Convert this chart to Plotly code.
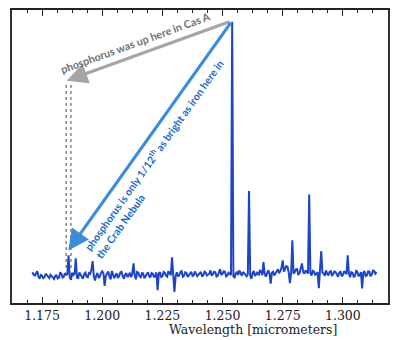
import plotly.graph_objects as go

# ---- data ----
wl_start = 1.171
wl_step = 0.0005
intensity = [
    0.8, -0.2, -0.5, 0.4, 1.2, -1.0, -1.8, -0.3, -0.6, -1.6,
    -1.2, 0.2, -0.4, -1.1, -1.5, -0.2, -0.8, -1.4, -1.9, -0.6,
    -0.5, -1.7, -1.4, 0.5, 0.3, -1.3, -1.0, 0.4, -0.2, 0.0,
    7.5, -1.0, -2.2, 0.6, -0.3, 0.2, 6.3, -1.4, -1.5, 0.7,
    -0.2, -1.0, -1.8, 0.1, 0.6, -0.9, -1.2, 0.5, 0.2, 1.8,
    5.2, -0.8, -2.5, -0.5, 0.5, -1.3, -1.0, 0.6, 1.2, 0.3,
    -4.6, -0.6, 0.2, 1.1, -1.0, -2.0, 1.3, 0.0, -1.6, -0.4,
    0.4, -1.5, -0.8, 0.7, 1.0, -0.6, -1.8, -0.2, 0.5, -1.1,
    -0.5, 0.6, -1.2, 0.4, 4.3, -0.5, -2.0, 0.9, 0.6, -0.8,
    -1.2, 0.4, 0.3, -1.6, -0.9, 0.2, 0.8, -0.7, -1.3, 0.5,
    0.2, -1.2, -0.6, 0.7, -6.3, 0.3, 0.8, -1.1, -0.8, 0.9,
    0.5, -0.6, -1.0, 1.2, 0.3, -0.4, 6.7, 0.0, -7.0, -0.8,
    0.8, -0.9, -0.4, 0.9, 1.2, -1.0, -0.6, 0.8, 0.5, -1.1,
    -0.3, 0.4, 1.0, -0.7, -0.5, 1.1, 0.4, -0.8, -0.2, 0.6,
    0.9, -0.9, -0.4, 1.0, 0.6, -0.5, -0.3, 0.2, 1.5, -0.6,
    0.0, 1.0, 0.8, -0.9, -0.6, 0.8, 2.0, -0.3, 0.2, 1.2,
    1.0, -0.9, -0.5, 0.6, 0.3, -0.3, 100.0, -0.8, -1.5, 0.4,
    0.8, -0.3, 1.5, 0.2, -0.6, 0.9, 0.3, -0.5, -0.8, 0.0,
    33.0, -0.6, -1.8, 0.4, 1.3, -0.7, 0.2, 0.9, -0.5, 1.4,
    1.2, -0.4, 4.8, 0.2, -1.0, 0.8, 1.5, 0.3, -3.7, 0.6,
    1.0, -0.5, 0.3, 1.4, 2.0, 0.4, 1.2, 2.6, 5.5, 1.0,
    2.0, 3.2, 3.0, 0.6, -3.5, 0.5, 13.4, 0.2, 0.8, 1.9,
    2.0, -0.3, 0.5, 2.2, 4.3, 0.8, 0.2, 1.5, 1.0, 0.3,
    31.6, 0.4, -0.5, 1.3, 1.0, -0.2, 0.2, 0.9, -5.5, 0.5,
    9.2, 0.6, 0.3, -0.6, 1.5, 0.2, -0.5, 1.0, 1.2, -0.7,
    0.0, 1.1, 0.8, -0.4, -1.0, 0.7, 1.0, -0.8, -0.3, 1.2,
    0.4, 0.0, 7.5, 0.3, -1.2, 0.8, 0.6, -1.0, -0.8, 1.3,
    1.0, -0.6, -0.5, 0.9, -5.6, 0.6, 1.2, -0.7, -0.4, 1.1,
    1.0, -0.8, -0.2, 1.4, 1.3, 0.2, 0.8,
]
wavelength = [round(wl_start + wl_step * i, 5) for i in range(len(intensity))]

tick_vals = [1.175, 1.200, 1.225, 1.250, 1.275, 1.300]
tick_text = ["1.175", "1.200", "1.225", "1.250", "1.275", "1.300"]

# reference markers
cas_a_wl = [1.1850, 1.1870]
cas_a_level = 75.0
iron_peak = (1.2535, 100.3)
gray_head = (1.1852, 76.7)
blue_head = (1.1859, 9.4)

x_range = [1.1625, 1.31875]
y_range = [-11.4, 104.7]

fig = go.Figure()

for xv in cas_a_wl:
    fig.add_trace(go.Scatter(
        x=[xv, xv], y=[cas_a_level, 2.0], mode="lines",
        line=dict(color="#444444", width=1, dash="dot"),
        hoverinfo="skip", showlegend=False))

fig.add_trace(go.Scatter(
    x=wavelength, y=intensity, mode="lines",
    line=dict(color="#1d45c6", width=2),
    showlegend=False))

# arrows
fig.add_annotation(x=gray_head[0], y=gray_head[1], ax=iron_peak[0], ay=iron_peak[1],
                   xref="x", yref="y", axref="x", ayref="y", text="",
                   showarrow=True, arrowhead=2, arrowsize=1.3, arrowwidth=3.2,
                   arrowcolor="#a5a5a5", standoff=0)
fig.add_annotation(x=blue_head[0], y=blue_head[1], ax=iron_peak[0] + 0.0004, ay=iron_peak[1],
                   xref="x", yref="y", axref="x", ayref="y", text="",
                   showarrow=True, arrowhead=2, arrowsize=1.3, arrowwidth=3.2,
                   arrowcolor="#3d8cd8", standoff=0)

# labels on arrows
fig.add_annotation(x=1.2137, y=92.0, xref="x", yref="y", showarrow=False,
                   text="phosphorus was up here in Cas A", textangle=-20,
                   font=dict(family="Lato", size=10.8, color="#707070", weight="bold"),
                   xanchor="center", yanchor="middle")
fig.add_annotation(x=1.2238, y=45.7, xref="x", yref="y", showarrow=False,
                   text="phosphorus is only 1/12<sup>th</sup> as bright as iron here in<br>the Crab Nebula",
                   textangle=-54.6, align="left",
                   font=dict(family="Lato", size=10.5, color="#1769cc", weight="bold"),
                   xanchor="center", yanchor="middle")

# axis title
fig.add_annotation(x=0.64, y=-0.0915, xref="paper", yref="paper", showarrow=False,
                   text="Wavelength [micrometers]",
                   font=dict(family="DejaVu Serif", size=12.5, color="#222222"),
                   xanchor="center", yanchor="middle")

fig.update_xaxes(range=x_range, tickvals=tick_vals, ticktext=tick_text,
                 ticks="inside", ticklen=6, tickwidth=1.3, tickcolor="#222222",
                 showline=True, linecolor="#222222", linewidth=1.5, mirror="allticks",
                 showgrid=False, zeroline=False,
                 tickfont=dict(family="DejaVu Serif", size=12.5, color="#222222"),
                 minor=dict(dtick=0.00625, tick0=1.175, ticks="inside", ticklen=3,
                            tickwidth=1.3, tickcolor="#222222", showgrid=False))
fig.update_yaxes(range=y_range, showticklabels=False, ticks="",
                 showline=True, linecolor="#333333", linewidth=1.5, mirror=True,
                 showgrid=False, zeroline=False)

fig.update_layout(width=400, height=340,
                  margin=dict(l=12, r=12, t=8, b=37),
                  paper_bgcolor="white", plot_bgcolor="white")

fig.write_html("out.html")
